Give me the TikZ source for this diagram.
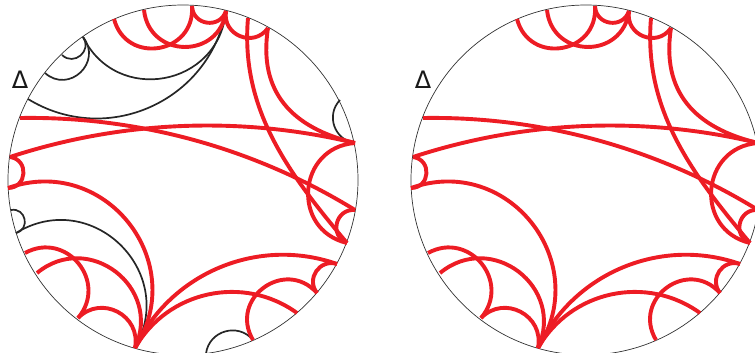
\documentclass[tikz,border=0pt]{standalone}
\usepackage{fontspec}
\newfontfamily\trifont{DejaVu Sans}
\definecolor{arcred}{RGB}{237,28,36}
\tikzset{
  redarc/.style={draw=arcred, line width=3.9pt},
  blackarc/.style={draw=black!85, line width=1.7pt},
  rim/.style={draw=black!80, line width=0.7pt},
  tri/.style={font=\trifont\fontsize{24}{24}\selectfont, inner sep=0pt, text=black!90},
}
% circular arc from (#2,#3) to (#4,#5) through apex (#6,#7), pixel coordinates (y down)
\newcommand\harc[7]{%
  \pgfmathsetmacro\zzdx{(#4-#2)/100}%
  \pgfmathsetmacro\zzdy{(#5-#3)/100}%
  \pgfmathsetmacro\zzc{sqrt(\zzdx*\zzdx+\zzdy*\zzdy)}%
  \pgfmathsetmacro\zzs{((#6-(#2+#4)/2)/100*(-\zzdy)+(#7-(#3+#5)/2)/100*\zzdx)/\zzc}%
  \pgfmathsetmacro\zzb{2*atan(2*\zzs/\zzc)}%
  \pgfmathsetmacro\zzl{0.85143/((cos(\zzb/2))^2)}%
  \draw[#1] (#2,#3) to[bend right=\zzb, looseness=\zzl] (#4,#5);%
}
\newcommand\redarcs{%
  \harc{redarc}{114}{19}{192}{6}{159}{48}
  \harc{redarc}{144}{10}{226}{11}{187}{47}
  \harc{redarc}{192}{6}{226}{11}{209}{23}
  \harc{redarc}{226}{11}{268}{28}{247}{39}
  \harc{redarc}{10}{157}{355}{143}{182}{126}
  \harc{redarc}{20}{118}{355}{210}{194}{140}
  \harc{redarc}{10}{157}{8}{188}{23.5}{173}
  \harc{redarc}{8}{188}{135}{348}{128.7}{222.6}
  \harc{redarc}{25}{253}{78}{318}{78.6}{263.4}
  \harc{redarc}{37}{273}{135}{348}{115.8}{271.6}
  \harc{redarc}{78}{318}{135}{348}{117.7}{311.8}
  \harc{redarc}{135}{348}{337}{264}{219.9}{267.2}
  \harc{redarc}{337}{264}{317}{293}{316.3}{271.1}
  \harc{redarc}{135}{348}{297}{313}{208.2}{294.3}
  \harc{redarc}{253}{340}{317}{293}{263.7}{287.5}
  \harc{redarc}{355}{210}{347}{243}{336.9}{223.1}
  \harc{redarc}{355}{143}{347}{243}{308.1}{189.6}
  \draw[redarc] (248,18) .. controls (240,110) and (290,175) .. (347,243);
  \draw[redarc] (268,28) .. controls (258,92) and (292,128) .. (355,143);
}
\begin{document}
\begin{tikzpicture}[x=1pt,y=-1pt]
\useasboundingbox (0,0) rectangle (755,353);
\begin{scope}
  \draw[rim] (183,180) circle[radius=175];
  \harc{blackarc}{62}{55}{83}{37}{80.6}{55.5}
  \harc{blackarc}{45}{73}{83}{37}{80.5}{72.4}
  \harc{blackarc}{83}{37}{226}{11}{164.3}{78.1}
  \harc{blackarc}{28}{99}{226}{11}{150.1}{107.1}
  \harc{blackarc}{340}{100}{355}{143}{334.3}{126.1}
  \harc{blackarc}{11}{210}{16}{233}{25}{221}
  \harc{blackarc}{16}{233}{135}{348}{120}{244.5}
  \harc{blackarc}{206}{353.5}{253}{340}{225.1}{331.4}
  \redarcs
  \node[tri] (triL) at (20,80) {Δ};
\end{scope}
\begin{scope}[xshift=403pt]
  \draw[rim] (183,180) circle[radius=175];
  \redarcs
  \node[tri] (triR) at (20,80) {Δ};
\end{scope}
\end{tikzpicture}
\end{document}
